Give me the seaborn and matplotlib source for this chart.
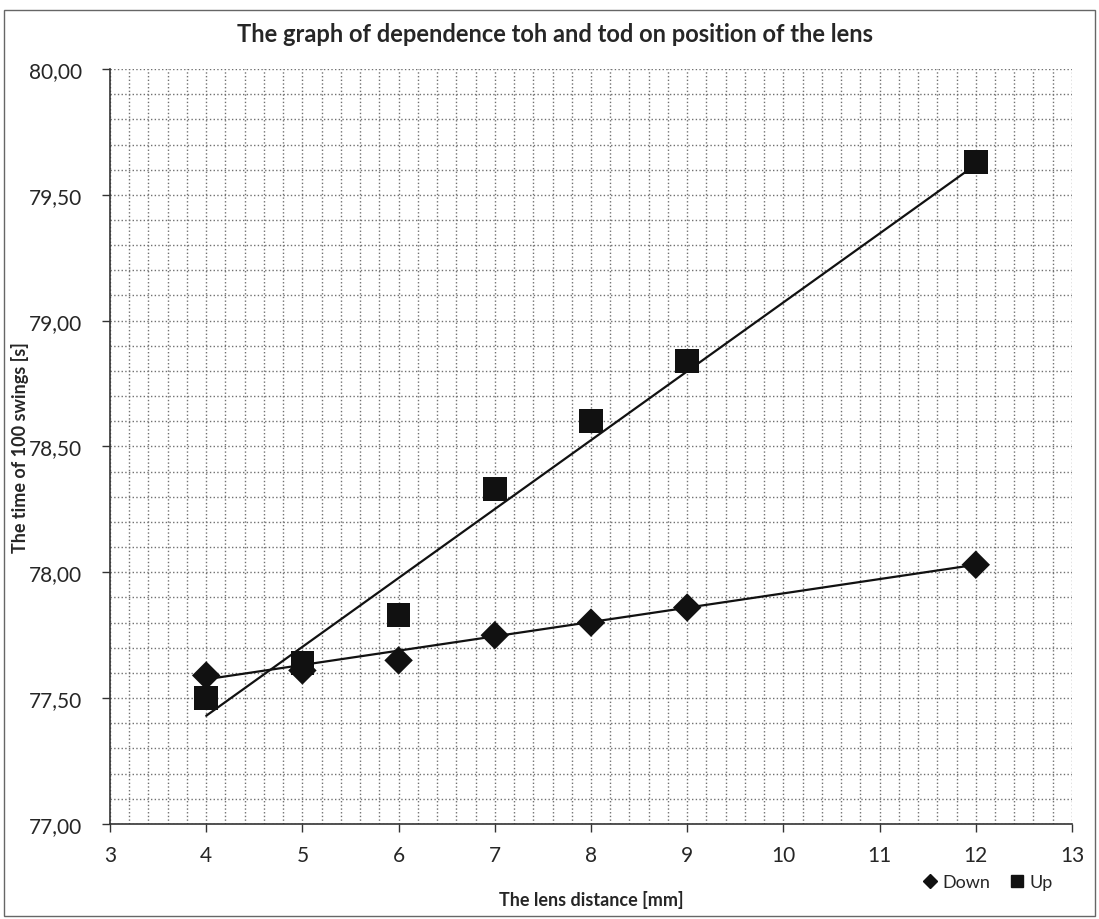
import numpy as np
import pandas as pd
import matplotlib
matplotlib.use("Agg")
import matplotlib.pyplot as plt
import seaborn as sns
from matplotlib.ticker import FuncFormatter, MultipleLocator
from matplotlib.lines import Line2D

# datos
lens_distance = [4, 5, 6, 7, 8, 9, 12]
time_down = [77.59, 77.61, 77.65, 77.75, 77.80, 77.86, 78.03]
time_up = [77.50, 77.64, 77.83, 78.33, 78.60, 78.84, 79.63]

# lineas de tendencia (extremos leidos)
trend_x = [4, 12]
trend_down = [77.575, 78.03]
trend_up = [77.43, 79.62]

df = pd.DataFrame({
    "x": lens_distance * 2,
    "y": time_down + time_up,
    "serie": ["Down"] * len(lens_distance) + ["Up"] * len(lens_distance),
})

sns.set_theme(style="white")
plt.rcParams['font.family'] = ['Lato', 'DejaVu Sans']

fig = plt.figure(figsize=(10.99, 9.2), dpi=100)
ax = fig.add_axes([0.1001, 0.1033, 0.8753, 0.8206])

# lineas de tendencia
sns.lineplot(x=trend_x, y=trend_down, ax=ax, color="#111111", lw=1.6, zorder=3)
sns.lineplot(x=trend_x, y=trend_up, ax=ax, color="#111111", lw=1.6, zorder=3)

# puntos
sns.scatterplot(data=df[df.serie == "Down"], x="x", y="y", marker="D", s=210,
                color="#111111", edgecolor="none", ax=ax, zorder=4)
sns.scatterplot(data=df[df.serie == "Up"], x="x", y="y", marker="s", s=290,
                color="#111111", edgecolor="none", ax=ax, zorder=5)

ax.set_xlim(3, 13)
ax.set_ylim(77, 80)
ax.xaxis.set_major_locator(MultipleLocator(1))
ax.xaxis.set_minor_locator(MultipleLocator(0.2))
ax.yaxis.set_major_locator(MultipleLocator(0.5))
ax.yaxis.set_minor_locator(MultipleLocator(0.1))
ax.yaxis.set_major_formatter(FuncFormatter(lambda v, p: f"{v:.2f}".replace(".", ",")))

ax.grid(which="both", color="#707070", linestyle=":", linewidth=1.0)
ax.tick_params(axis="both", which="major", direction="out", length=6, width=1,
               color="#333333", labelsize=15, pad=9, left=True, bottom=True)
ax.tick_params(axis="y", which="major", pad=14)
ax.tick_params(which="minor", length=0)

for side in ["top", "right"]:
    ax.spines[side].set_visible(False)
for side in ["left", "bottom"]:
    ax.spines[side].set_color("#333333")
    ax.spines[side].set_linewidth(1.2)

fig.text(555 / 1099, 1 - 35 / 920,
         "The graph of dependence toh and tod on position of the lens",
         fontsize=17, weight="bold", ha="center", va="center")
ax.set_xlabel("The lens distance [mm]", fontsize=13, weight="bold", labelpad=18)
ax.set_ylabel("The time of 100 swings [s]", fontsize=13, weight="bold")
ax.yaxis.set_label_coords(-0.084, 0.5)

handles = [
    Line2D([], [], marker="D", color="#111111", linestyle="none", markersize=7),
    Line2D([], [], marker="s", color="#111111", linestyle="none", markersize=8),
]
fig.legend(handles, ["Down", "Up"], loc="center", bbox_to_anchor=(0.898, 0.040),
           ncol=2, frameon=False, fontsize=13, handletextpad=0.2,
           columnspacing=1.0, handlelength=1.0)

# marco exterior
fig.patches.append(plt.Rectangle((0.004, 0.003), 0.992, 0.985, transform=fig.transFigure,
                                 fill=False, edgecolor="#666666", linewidth=1.0))

fig.savefig("out.png", dpi=100)
